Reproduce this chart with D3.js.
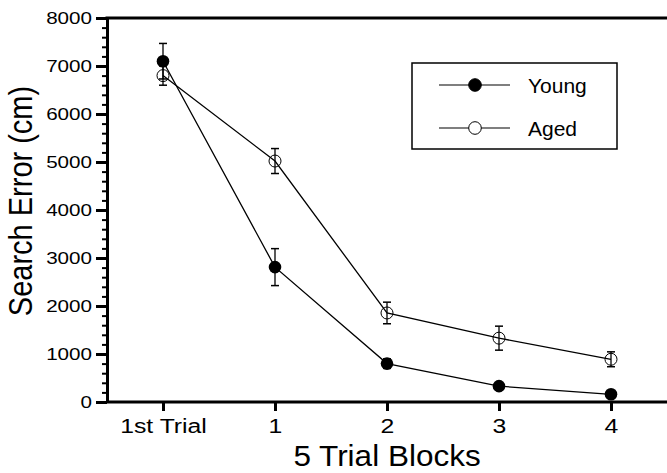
<!DOCTYPE html>
<html>
<head>
<meta charset="utf-8">
<script src="https://cdn.jsdelivr.net/npm/d3@7"></script>
<style>
  body { margin: 0; background: #fff; }
  svg { display: block; }
  svg text { font-family: "Liberation Sans", Arial, Helvetica, sans-serif; }
</style>
</head>
<body>
<svg id="chart" width="667" height="473"></svg>
<script>
// --- data ---
const categories = ["1st Trial", "1", "2", "3", "4"];
const youngMean = [7100, 2810, 800, 330, 160];
const youngErr = [370, 385, 100, 60, 50];
const agedMean = [6800, 5020, 1855, 1330, 890];
const agedErr = [200, 260, 225, 250, 155];
const yTicks = [0, 1000, 2000, 3000, 4000, 5000, 6000, 7000, 8000];
const seriesNames = ["Young", "Aged"];

function drawChart() {
    const svg = d3.select("#chart");
    const left = 107, right = 667, top = 18, bottom = 402;

    const x = d3.scalePoint().domain(categories).range([left, right]).padding(0.5);
    const y = d3.scaleLinear().domain([0, 8000]).range([bottom, top]);

    // --- axes ---
    // minor ticks first so the major ones sit on top
    svg.append("g")
        .attr("transform", `translate(${left},0)`)
        .call(d3.axisLeft(y).ticks(40).tickSize(5).tickFormat(""))
        .call(g => g.select(".domain").remove())
        .call(g => g.selectAll("line").attr("stroke-width", 2));

    const yAxis = svg.append("g")
        .attr("transform", `translate(${left},0)`)
        .call(d3.axisLeft(y).tickValues(yTicks).tickFormat(d3.format("d"))
            .tickSize(11).tickSizeOuter(0).tickPadding(4));
    yAxis.select(".domain").attr("stroke-width", 3);
    yAxis.selectAll("line").attr("stroke-width", 3);
    yAxis.selectAll("text")
        .attr("x", 0).attr("dy", null)
        .attr("dominant-baseline", "central")
        .attr("transform", "translate(-15,0) scale(1.25,1)")
        .style("font-size", "16.5px").attr("fill", "#000");

    const xAxis = svg.append("g")
        .attr("transform", `translate(0,${bottom})`)
        .call(d3.axisBottom(x).tickSize(9).tickSizeOuter(0).tickPadding(6));
    xAxis.select(".domain").attr("stroke-width", 3)
        .attr("d", `M${left},0H${right}`);
    xAxis.selectAll("line").attr("stroke-width", 3);
    xAxis.selectAll("text")
        .attr("y", 0).attr("dy", null)
        .attr("transform", "translate(0,31) scale(1.18,1)")
        .style("font-size", "21px").attr("fill", "#000");

    // top frame line
    svg.append("line")
        .attr("x1", left - 1.5).attr("x2", right)
        .attr("y1", y(8000)).attr("y2", y(8000))
        .attr("stroke", "#000").attr("stroke-width", 3);

    // --- titles ---
    svg.append("text")
        .attr("transform", `translate(${(left + right) / 2},466) scale(1.05,1)`)
        .attr("text-anchor", "middle")
        .style("font-size", "30px")
        .text("5 Trial Blocks");

    svg.append("text")
        .attr("transform", "translate(32,201) scale(1.17,1) rotate(-90)")
        .attr("text-anchor", "middle")
        .style("font-size", "29px")
        .text("Search Error (cm)");

    // --- series ---
    const young = categories.map((c, i) => ({ c: c, v: youngMean[i], e: youngErr[i] }));
    const aged = categories.map((c, i) => ({ c: c, v: agedMean[i], e: agedErr[i] }));

    const line = d3.line().x(d => x(d.c)).y(d => y(d.v));

    [aged, young].forEach(s => {
        svg.append("path")
            .datum(s)
            .attr("d", line)
            .attr("fill", "none")
            .attr("stroke", "#000")
            .attr("stroke-width", 1.3);
    });

    // error bars
    [aged, young].forEach(s => {
        const eb = svg.append("g").selectAll("g").data(s).join("g")
            .attr("stroke", "#000");
        eb.append("line")
            .attr("x1", d => x(d.c)).attr("x2", d => x(d.c))
            .attr("y1", d => y(d.v + d.e)).attr("y2", d => y(d.v - d.e))
            .attr("stroke-width", 1.3);
        eb.append("line")
            .attr("x1", d => x(d.c) - 4).attr("x2", d => x(d.c) + 4)
            .attr("y1", d => y(d.v + d.e)).attr("y2", d => y(d.v + d.e))
            .attr("stroke-width", 1.5);
        eb.append("line")
            .attr("x1", d => x(d.c) - 4).attr("x2", d => x(d.c) + 4)
            .attr("y1", d => y(d.v - d.e)).attr("y2", d => y(d.v - d.e))
            .attr("stroke-width", 1.5);
    });

    // markers: open for Aged, filled for Young (Young on top)
    svg.append("g").selectAll("circle").data(aged).join("circle")
        .attr("cx", d => x(d.c)).attr("cy", d => y(d.v)).attr("r", 6)
        .attr("fill", "none").attr("stroke", "#000").attr("stroke-width", 1);

    svg.append("g").selectAll("circle").data(young).join("circle")
        .attr("cx", d => x(d.c)).attr("cy", d => y(d.v)).attr("r", 6.3)
        .attr("fill", "#000");

    // --- legend ---
    const lg = svg.append("g");
    lg.append("rect")
        .attr("x", 412).attr("y", 63).attr("width", 205).attr("height", 86)
        .attr("fill", "#fff").attr("stroke", "#000").attr("stroke-width", 1.5);

    seriesNames.forEach((name, i) => {
        const ly = 85 + i * 43;
        lg.append("line")
            .attr("x1", 439).attr("x2", 510).attr("y1", ly).attr("y2", ly)
            .attr("stroke", "#000").attr("stroke-width", 1.2);
        lg.append("circle")
            .attr("cx", 475).attr("cy", ly).attr("r", 6.3)
            .attr("fill", i === 0 ? "#000" : "#fff")
            .attr("stroke", "#000").attr("stroke-width", 1);
        lg.append("text")
            .attr("x", 528).attr("y", ly)
            .attr("dominant-baseline", "central")
            .style("font-size", "21px")
            .text(name);
    });
}

drawChart();
</script>
</body>
</html>
